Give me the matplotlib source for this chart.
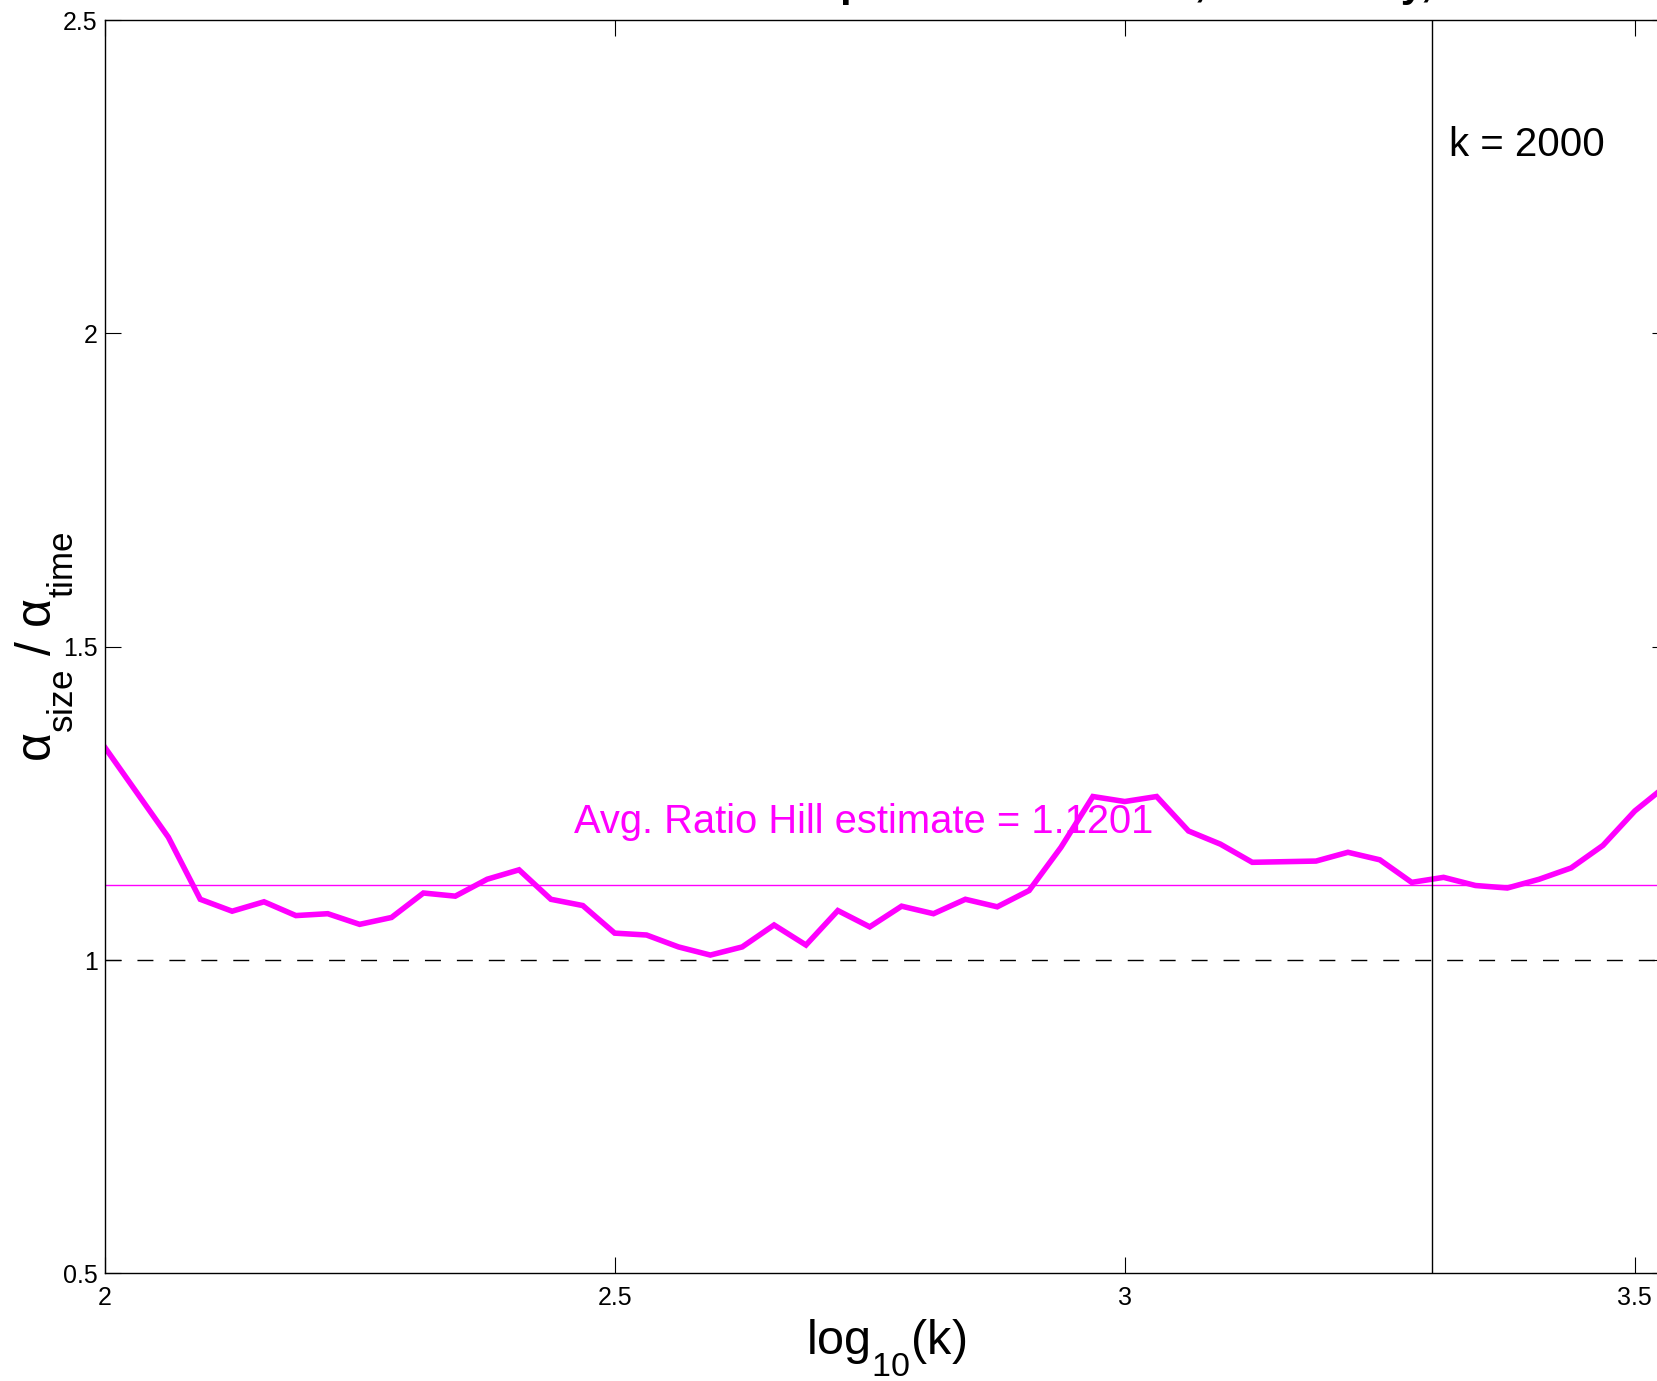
import numpy as np
import matplotlib
matplotlib.use("Agg")
import matplotlib.pyplot as plt
import matplotlib._mathtext as mtext

plt.rcParams['font.family'] = ['Liberation Sans', 'DejaVu Sans']
plt.rcParams['mathtext.fontset'] = 'custom'
plt.rcParams['mathtext.rm'] = 'Liberation Sans'
plt.rcParams['mathtext.it'] = 'Liberation Sans'
plt.rcParams['mathtext.bf'] = 'Liberation Sans:bold'
# drop subscripts lower, like the original labels
mtext.FontConstantsBase.sub1 = 0.85

# log10(k) sample points and ratio Hill estimates
log_k = [2.0, 2.0625, 2.09375, 2.125, 2.15625, 2.1875, 2.21875, 2.25, 2.28125,
         2.3125, 2.34375, 2.375, 2.40625, 2.4375, 2.46875, 2.5, 2.53125, 2.5625,
         2.59375, 2.625, 2.65625, 2.6875, 2.71875, 2.75, 2.78125, 2.8125, 2.84375,
         2.875, 2.90625, 2.9375, 2.96875, 3.0, 3.03125, 3.0625, 3.09375, 3.125,
         3.15625, 3.1875, 3.21875, 3.25, 3.28125, 3.3125, 3.34375, 3.375, 3.40625,
         3.4375, 3.46875, 3.5, 3.53125]
ratio = [1.340, 1.196, 1.097, 1.078, 1.093, 1.071, 1.074, 1.057, 1.068,
         1.107, 1.102, 1.129, 1.144, 1.097, 1.087, 1.043, 1.040, 1.021,
         1.008, 1.021, 1.056, 1.024, 1.079, 1.053, 1.086, 1.074, 1.097,
         1.085, 1.111, 1.180, 1.261, 1.253, 1.261, 1.206, 1.185, 1.156,
         1.157, 1.158, 1.172, 1.160, 1.124, 1.132, 1.119, 1.115, 1.129,
         1.147, 1.183, 1.238, 1.279]
avg_ratio = 1.1201
k_mark = 2000
xticks = [2, 2.5, 3, 3.5]
xtick_labels = ['2', '2.5', '3', '3.5']
yticks = [0.5, 1, 1.5, 2, 2.5]
ytick_labels = ['0.5', '1', '1.5', '2', '2.5']

W, H = 1657, 1381
fig = plt.figure(figsize=(W / 100, H / 100), dpi=100)
ax = fig.add_axes([104.6 / W, 1 - 1273.4 / H, (1668 - 104.6) / W, (1273.4 - 20.1) / H])

ax.plot(log_k, ratio, color='#ff00ff', lw=4.0, solid_joinstyle='miter')
ax.axhline(avg_ratio, color='#ff00ff', lw=1.0)
ax.axhline(1, color='black', lw=1.0, dashes=(11.5, 11.5))
ax.axvline(np.log10(k_mark), color='black', lw=1.0)

ax.text(2.46, avg_ratio + 0.1, 'Avg. Ratio Hill estimate = %.4f' % avg_ratio,
        color='#ff00ff', fontsize=28.7, va='center', ha='left')
ax.text(np.log10(k_mark) * 1.005, 2.3, 'k = %d' % k_mark,
        color='black', fontsize=29, va='center', ha='left')

ax.set_xlim(2, 3.5325)
ax.set_ylim(0.5, 2.5)
ax.set_xticks(xticks)
ax.set_xticklabels(xtick_labels)
ax.set_yticks(yticks)
ax.set_yticklabels(ytick_labels)
ax.tick_params(direction='in', length=11.5, width=0.8, top=True, right=True,
               labelsize=18)
ax.tick_params(axis='x', pad=9)
ax.tick_params(axis='y', pad=5)
for s in ax.spines.values():
    s.set_linewidth(1.0)

ax.set_xlabel(r'$\mathrm{log_{10}(k)}$', fontsize=35, labelpad=6)
ax.set_ylabel(r'$\mathrm{\alpha_{size}\ /\ \alpha_{time}}$', fontsize=36)
ax.yaxis.set_label_coords(-0.0183, 0.5)

# title sits mostly above the figure edge, only descenders show
fig.text(132 / W, 1 + 4 / H, 'Hill Estimates of the Size-Time Compound Rate Trend, Seismicity, Lattice Model',
         fontsize=30, fontweight='bold', ha='left', va='baseline')

fig.savefig('out.png', dpi=100)
